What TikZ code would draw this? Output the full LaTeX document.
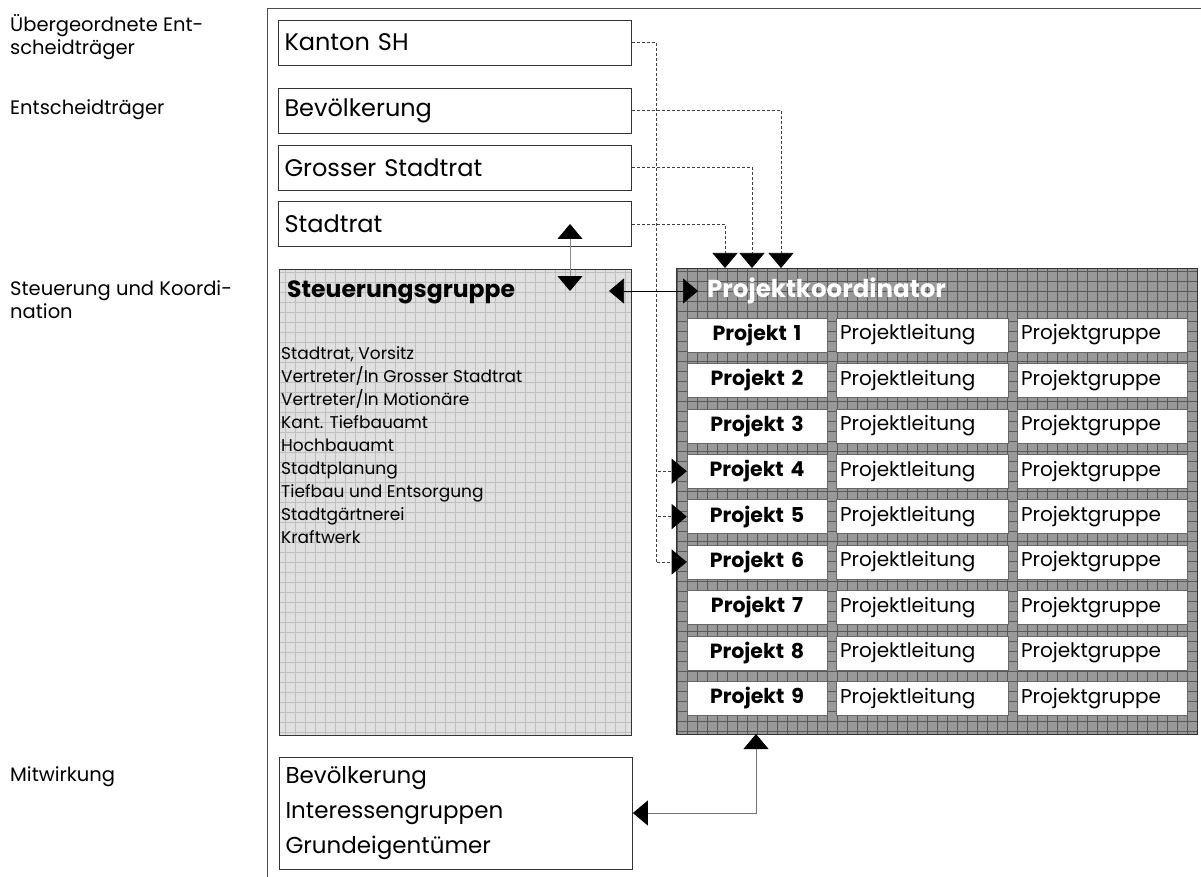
\documentclass[tikz,border=0pt]{standalone}
\usepackage{fontspec}
\setmainfont{Poppins}
\usetikzlibrary{arrows.meta}

\begin{document}
\begin{tikzpicture}[x=1pt, y=-1pt,
  box/.style={draw=black!80, line width=.8pt, fill=white, minimum width=353pt, minimum height=45pt,
    text width=341pt, align=left, inner xsep=6pt, font=\fontsize{24}{35}\selectfont},
  cell/.style={draw=black!60, line width=.6pt, fill=white, minimum height=34pt, inner xsep=4pt, inner ysep=0pt,
    font=\fontsize{20}{22}\selectfont},
  side/.style={anchor=base west, align=left, inner sep=0pt, font=\fontsize{19.5}{23}\selectfont},
  dashline/.style={densely dashed, line width=.6pt, black!75},
  tip/.style={-{Triangle[width=25pt,length=15pt,color=black]}},
  tips/.style={{Triangle[width=25pt,length=15pt,color=black]}-{Triangle[width=25pt,length=15pt,color=black]}},
  area/.style={draw=black!80, line width=.8pt, anchor=north west, minimum width=#1, minimum height=466pt, inner sep=0pt},
  grid1/.style={path picture={
    \fill[black!12] (path picture bounding box.south west) rectangle (path picture bounding box.north east);
    \draw[black!25, line width=.5pt, step=10pt] (path picture bounding box.south west) grid (path picture bounding box.north east);}},
  grid2/.style={path picture={
    \fill[black!40] (path picture bounding box.south west) rectangle (path picture bounding box.north east);
    \draw[black!65, line width=.6pt, step=10pt] (path picture bounding box.south west) grid (path picture bounding box.north east);}},
]
\useasboundingbox (0,0) rectangle (1201,877);

% frame
\draw[line width=.8pt, black!70] (1201,8) -- (267,8) -- (267,877);

% levels
\node[side] (lab1) at (10,55) {Übergeordnete Ent-\\scheidträger};
\node[side] (lab2) at (10,115) {Entscheidträger};
\node[side] (lab3) at (10,318) {Steuerung und Koordi-\\nation};
\node[side] (lab4) at (10,781) {Mitwirkung};

% deciders
\node[box] (kanton) at (455,42.5) {Kanton SH};
\node[box] (bevoelk) at (455,110.5) {Bevölkerung};
\node[box] (grossrat) at (455,167.5) {Grosser Stadtrat};
\node[box] (stadtrat) at (455,224) {Stadtrat};

% steering group
\node[area=352pt, grid1] (steuer) at (279,269) {};
\node[anchor=west, inner sep=0pt, font=\bfseries\fontsize{23.5}{26}\selectfont] (steuerhead) at (287,292) {Steuerungsgruppe};
\node[anchor=north west, align=left, inner sep=0pt, font=\fontsize{17}{23.1}\selectfont] (steuerlist) at (281,346)
  {Stadtrat, Vorsitz\\Vertreter/In Grosser Stadtrat\\Vertreter/In Motionäre\\Kant. Tiefbauamt\\Hochbauamt\\
   Stadtplanung\\Tiefbau und Entsorgung\\Stadtgärtnerei\\Kraftwerk};

% project coordination
\node[area=521pt, grid2] (koord) at (676,268) {};
\node[anchor=west, inner sep=0pt, text=white, font=\bfseries\fontsize{24.5}{28}\selectfont] (koordhead) at (707,291) {Projektkoordinator};
\foreach \i in {1,...,9} {
  \pgfmathsetmacro\yy{335+45.4*(\i-1)}
  \node[cell, text width=132pt, align=center, font=\bfseries\fontsize{20.5}{22}\selectfont] (p\i) at (757,\yy) {Projekt \i};
  \node[cell, text width=164pt, align=left] (l\i) at (922,\yy) {Projektleitung};
  \node[cell, text width=162pt, align=left] (g\i) at (1102,\yy) {Projektgruppe};
}

% participation
\node[box, minimum height=112pt, font=\fontsize{23}{35}\selectfont] (mitw) at (456,813) {Bevölkerung\\Interessengruppen\\Grundeigentümer};

% connectors
\coordinate (k1) at (725,268);
\coordinate (k2) at (752,268);
\coordinate (k3) at (781,268);
\coordinate (stadtin) at (570,224);
\coordinate (steuerin) at (570,291);
\coordinate (steuerout) at (609,291);
\coordinate (koordin) at (698,291);
\coordinate (koordout) at (756,734);
\foreach \i in {4,5,6}
  \draw[dashline, tip] (kanton.east) -- ++(24,0) |- (p\i.west);
\draw[dashline, tip] (bevoelk.east) -| (k3);
\draw[dashline, tip] (grossrat.east) -| (k2);
\draw[dashline, tip] (stadtrat.east) -| (k1);
\draw[tips, black!45, line width=1pt] (stadtin) -- (steuerin);
\draw[tips, line width=.6pt] (steuerout) -- (koordin);
\draw[tips, black!55, line width=1pt] (mitw.east) -| (koordout);
\end{tikzpicture}
\end{document}
